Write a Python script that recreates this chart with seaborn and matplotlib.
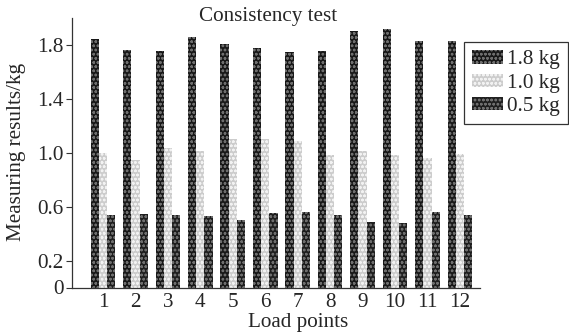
import pandas as pd
import matplotlib
matplotlib.use('Agg')
import matplotlib.pyplot as plt
import seaborn as sns

# values
points = [str(i) for i in range(1, 13)]
loads = ['1.8 kg', '1.0 kg', '0.5 kg']
vals_18 = [1.846, 1.764, 1.754, 1.858, 1.809, 1.774, 1.747, 1.752, 1.907, 1.915, 1.828, 1.830]
vals_10 = [0.999, 0.944, 1.036, 1.016, 1.100, 1.100, 1.085, 0.987, 1.013, 0.981, 0.964, 0.989]
vals_05 = [0.537, 0.542, 0.537, 0.530, 0.500, 0.554, 0.559, 0.539, 0.485, 0.478, 0.564, 0.535]
yticks = [0, 0.2, 0.6, 1.0, 1.4, 1.8]

df = pd.DataFrame({
    'point': points * 3,
    'load': [loads[0]] * 12 + [loads[1]] * 12 + [loads[2]] * 12,
    'value': vals_18 + vals_10 + vals_05,
})

sns.set_style('white')
plt.rcParams['font.family'] = ['Liberation Serif', 'DejaVu Serif']
plt.rcParams['hatch.linewidth'] = 0.7
fs = 15.2

fig = plt.figure(figsize=(5.69, 3.35), dpi=100)
ax = fig.add_axes([72 / 569, 1 - 287.5 / 335, 408 / 569, 269.5 / 335])

palette = {'1.8 kg': '#181818', '1.0 kg': '#cccccc', '0.5 kg': '#1e1e1e'}
sns.barplot(data=df, x='point', y='value', hue='load', palette=palette,
            width=0.76, ax=ax, legend=True, saturation=1)

hatch_cols = ['#6e6e6e', '#f2f2f2', '#6e6e6e']
for cont, hc in zip(ax.containers, hatch_cols):
    for bar in cont:
        bar.set_hatch('oooo')
        bar.set_edgecolor(hc)
        bar.set_linewidth(0)

ax.set_ylim(0, 2.0)
ax.set_xlim(-0.955, 11.62)
ax.set_yticks(yticks)
ax.set_yticklabels(['0', '0.2', '0.6', '1.0', '1.4', '1.8'])
ax.tick_params(axis='y', direction='out', length=4, width=0.8, color='#333333', labelsize=fs, pad=2, left=True)
ax.tick_params(axis='x', length=0, labelsize=fs, pad=4)
for s in ['top', 'right']:
    ax.spines[s].set_visible(False)
for s in ['left', 'bottom']:
    ax.spines[s].set_color('#333333')
    ax.spines[s].set_linewidth(0.9)

ax.set_xlabel('')
ax.set_ylabel('')
fig.text(298 / 569, 1 - 322 / 335, 'Load points', ha='center', va='center', fontsize=fs)
fig.text(17 / 569, 1 - 152 / 335, 'Measuring results/kg', ha='center', va='center',
         rotation=90, fontsize=fs)
fig.text(268 / 569, 1 - 16 / 335, 'Consistency test', ha='center', va='center', fontsize=fs)

handles, labels = ax.get_legend_handles_labels()
ax.get_legend().remove()
leg = fig.legend(handles, labels, loc='upper right', bbox_to_anchor=(0.999, 1 - 41.7 / 335),
                 borderaxespad=0, fontsize=fs, frameon=True, fancybox=False,
                 handlelength=1.45, handleheight=0.6, handletextpad=0.2,
                 labelspacing=0.2, borderpad=0.4)
for h, hc in zip(leg.get_patches(), hatch_cols):
    h.set_hatch('oooo')
    h.set_edgecolor(hc)
    h.set_linewidth(0)
leg.get_frame().set_edgecolor('black')
leg.get_frame().set_linewidth(0.9)

fig.savefig('out.png', dpi=100)
